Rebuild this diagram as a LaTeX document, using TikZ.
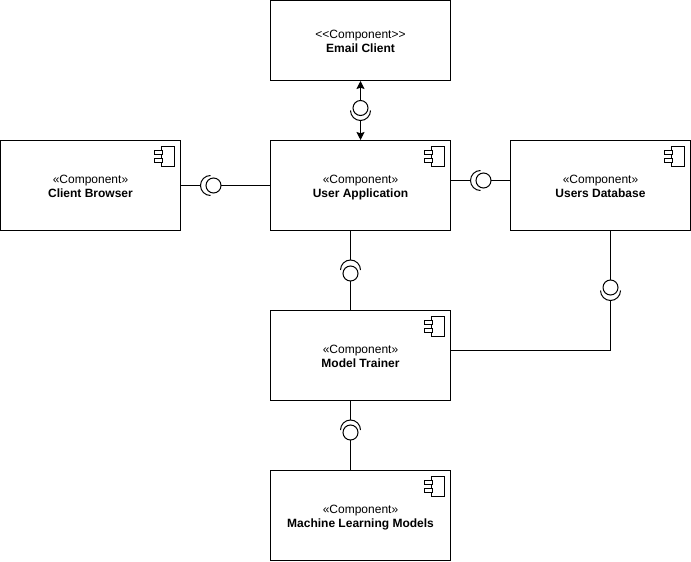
\documentclass[tikz,border=0pt]{standalone}
\usepackage{fontspec}
\setmainfont{Liberation Sans}
\usetikzlibrary{arrows.meta}

\newcommand{\comptext}[2]{\rule{0pt}{9.6pt}#1\\\textbf{#2}\rule[-2pt]{0pt}{2pt}}

\begin{document}
\begin{tikzpicture}[
    x=0.75pt, y=0.75pt,
    line width=0.75pt,
    component/.style={
        draw=black,
        fill=white,
        minimum width=135pt,
        minimum height=67.5pt,
        inner sep=0pt,
        font=\fontsize{9}{10.5}\selectfont,
        align=center,
    },
    ball/.style={
        draw=black,
        circle,
        minimum size=11.25pt,
        inner sep=0pt,
        outer sep=0pt,
    },
    socket/.style={
        circle,
        minimum size=15pt,
        inner sep=0pt,
        outer sep=0pt,
    },
    headed/.style={-{Stealth[length=6pt,width=6pt,inset=1pt]}},
]
\useasboundingbox (0,0) rectangle (691,561);

% boxes
\node[component, minimum height=60pt] (email) at (360.5, 520.5) {\comptext{<{}<Component>{}>}{Email Client}};
\node[component] (client) at (90.5, 375.5) {\comptext{«Component»}{Client Browser}};
\node[component] (user) at (360.5, 375.5) {\comptext{«Component»}{User Application}};
\node[component] (users) at (600.5, 375.5) {\comptext{«Component»}{Users Database}};
\node[component] (trainer) at (360.5, 205.5) {\comptext{«Component»}{Model Trainer}};
\node[component] (models) at (360.5, 45.5) {\comptext{«Component»}{Machine Learning Models}};

% component icons
\foreach \b in {client, user, users, trainer, models} {
    \begin{scope}[shift={(\b.north east)}]
        \draw (-20, -6.5) rectangle (-6.5, -26.5);
        \draw[fill=white] (-27, -10.5) rectangle (-18.5, -14.5);
        \draw[fill=white] (-27, -18.5) rectangle (-18.5, -22.5);
    \end{scope}
}

% balls and sockets
\node[ball] (ballA) at (213.5, 375.5) {};
\node[socket] (sockA) at (210.5, 375.5) {};
\node[ball] (ballB) at (360.5, 453) {};
\node[socket] (sockB) at (360.5, 450.5) {};
\node[ball] (ballC) at (483.5, 380.5) {};
\node[socket] (sockC) at (480.5, 380.5) {};
\node[ball] (ballD) at (350.5, 287.5) {};
\node[socket] (sockD) at (350.5, 291) {};
\node[ball] (ballE) at (610.5, 273.5) {};
\node[socket] (sockE) at (610.5, 270.5) {};
\node[ball] (ballF) at (350.5, 128.5) {};
\node[socket] (sockF) at (350.5, 131) {};
\coordinate (bend) at (610.5, 210.5);

\draw (sockA.north) arc[start angle=90, end angle=270, radius=7.5pt];
\draw (sockB.west) arc[start angle=180, end angle=360, radius=7.5pt];
\draw (sockC.north) arc[start angle=90, end angle=270, radius=7.5pt];
\draw (sockD.east) arc[start angle=0, end angle=180, radius=7.5pt];
\draw (sockE.west) arc[start angle=180, end angle=360, radius=7.5pt];
\draw (sockF.east) arc[start angle=0, end angle=180, radius=7.5pt];

% connectors
\draw (client.east) -- (sockA.west);
\draw (ballA.east) -- (user.west);
\draw[headed] (ballB.north) -- (email.south);
\draw[headed] (sockB.south) -- (user.north);
\draw (user.east |- sockC.west) -- (sockC.west);
\draw (ballC.east) -- (users.west |- ballC.east);
\draw (user.south -| sockD.north) -- (sockD.north);
\draw (ballD.south) -- (trainer.north -| ballD.south);
\draw (users.south -| ballE.north) -- (ballE.north);
\draw (sockE.south) -- (bend) -- (trainer.east |- bend);
\draw (trainer.south -| sockF.north) -- (sockF.north);
\draw (ballF.south) -- (models.north -| ballF.south);

\end{tikzpicture}
\end{document}
